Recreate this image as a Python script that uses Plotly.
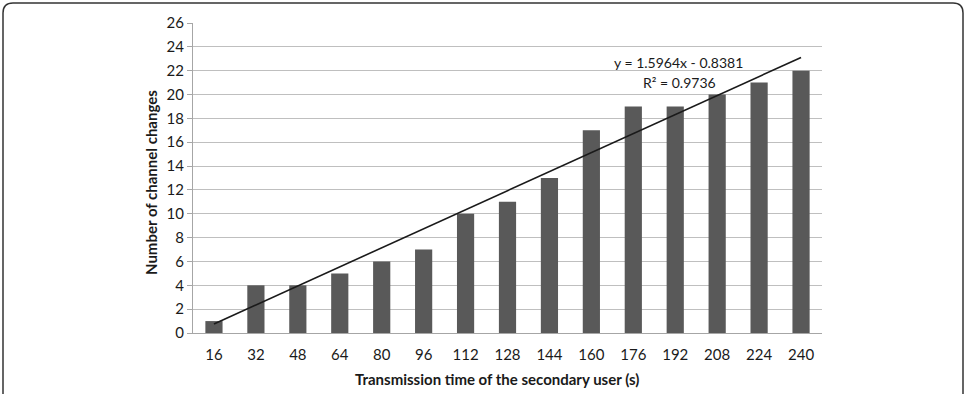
import plotly.graph_objects as go

categories = ["16", "32", "48", "64", "80", "96", "112", "128", "144", "160", "176", "192", "208", "224", "240"]
values = [1, 4, 4, 5, 6, 7, 10, 11, 13, 17, 19, 19, 20, 21, 22]
slope = 1.5964
intercept = -0.8381
r2 = 0.9736

idx = list(range(1, len(categories) + 1))
trend_x = [idx[0], idx[-1]]
trend_y = [slope * x + intercept for x in trend_x]

W, H = 971, 394
L, R, T, B = 193, 822, 23, 333
FONT = "Lato, 'Open Sans', sans-serif"

fig = go.Figure()
fig.add_trace(go.Bar(x=idx, y=values, width=0.41, marker=dict(color="#595959", line=dict(width=0)),
                     showlegend=False, hoverinfo="x+y"))
fig.add_trace(go.Scatter(x=trend_x, y=trend_y, mode="lines", line=dict(color="#1a1a1a", width=1.6),
                         showlegend=False, hoverinfo="skip"))

def px2x(p):
    return (p - L) / (R - L)

def px2y(p):
    return (B - p) / (B - T)

# rounded border around the whole figure
x0, x1, y0, y1, rad = 3, 963, 3, 420, 10
path = (f"M {px2x(x0+rad)},{px2y(y0)} L {px2x(x1-rad)},{px2y(y0)} "
        f"Q {px2x(x1)},{px2y(y0)} {px2x(x1)},{px2y(y0+rad)} "
        f"L {px2x(x1)},{px2y(y1)} L {px2x(x0)},{px2y(y1)} "
        f"L {px2x(x0)},{px2y(y0+rad)} Q {px2x(x0)},{px2y(y0)} {px2x(x0+rad)},{px2y(y0)} Z")
fig.add_shape(type="path", path=path, xref="paper", yref="paper",
              line=dict(color="#333333", width=1.5), layer="below")

def ann(x, y, text, size, angle=0):
    fig.add_annotation(x=px2x(x), y=px2y(y), xref="paper", yref="paper", showarrow=False,
                       xanchor="center", yanchor="middle", textangle=angle, text=text,
                       font=dict(family=FONT, size=size, color="#1a1a1a"))

ann(678, 62, f"y = {slope}x - {abs(intercept)}", 14)
ann(679, 82, f"R² = {r2}", 14)
ann(497, 379, "<b>Transmission time of the secondary user (s)</b>", 15)
ann(151, 183, "<b>Number of channel changes</b>", 15, -90)

fig.update_layout(
    width=W, height=H,
    margin=dict(l=L, r=W - R, t=T, b=H - B),
    paper_bgcolor="white", plot_bgcolor="white",
    font=dict(family=FONT, size=15, color="#1a1a1a"),
    xaxis=dict(range=[0.5, 15.5], tickvals=idx, ticktext=categories, showgrid=False,
               showline=True, linecolor="#a6a6a6", linewidth=1, ticks="", zeroline=False,
               ticklabelstandoff=8, tickfont=dict(size=15), fixedrange=True),
    yaxis=dict(range=[0, 26], dtick=2, showgrid=True, gridcolor="#bfbfbf", gridwidth=1,
               showline=True, linecolor="#a6a6a6", linewidth=1, ticks="outside", ticklen=5,
               tickcolor="#a6a6a6", zeroline=False, tickfont=dict(size=15), fixedrange=True),
)

fig.write_html("out.html")
